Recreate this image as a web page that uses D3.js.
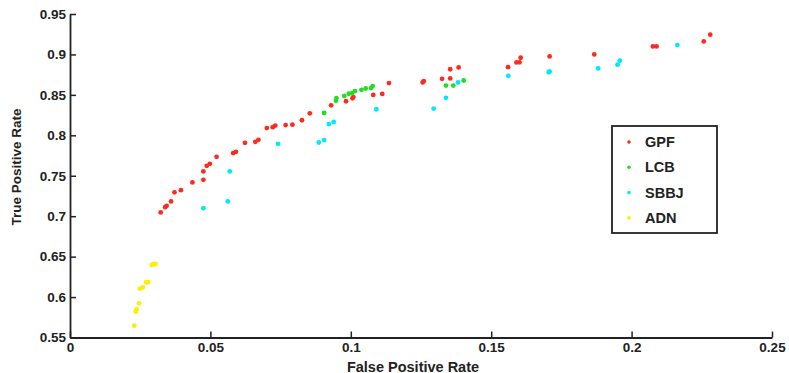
<!DOCTYPE html>
<html>
<head>
<meta charset="utf-8">
<script src="https://cdn.jsdelivr.net/npm/d3@7"></script>
<style>
  html, body { margin: 0; padding: 0; background: #fff; }
  svg { display: block; font-family: "Liberation Sans", Arial, sans-serif; font-weight: bold; }
</style>
</head>
<body>
<svg id="chart" width="789" height="373"></svg>
<script>
// series values: [false positive rate, true positive rate]
const gpf = [
  [0.0323, 0.7047], [0.0339, 0.7111], [0.0344, 0.7127], [0.0360, 0.7183], [0.0372, 0.7295],
  [0.0395, 0.7322], [0.0436, 0.7418], [0.0475, 0.7449], [0.0475, 0.7554], [0.0487, 0.7623],
  [0.0498, 0.7647], [0.0522, 0.7734], [0.0581, 0.7780], [0.0591, 0.7796], [0.0623, 0.7907],
  [0.0660, 0.7920], [0.0671, 0.7944], [0.0701, 0.8089], [0.0722, 0.8101], [0.0731, 0.8121],
  [0.0768, 0.8126], [0.0792, 0.8132], [0.0826, 0.8186], [0.0854, 0.8272], [0.0930, 0.8371],
  [0.0983, 0.8421], [0.1006, 0.8458], [0.1009, 0.8473], [0.1080, 0.8499], [0.1112, 0.8512],
  [0.1136, 0.8646], [0.1256, 0.8654], [0.1260, 0.8671], [0.1325, 0.8699], [0.1354, 0.8817],
  [0.1354, 0.8703], [0.1384, 0.8839], [0.1560, 0.8842], [0.1590, 0.8901], [0.1601, 0.8903],
  [0.1605, 0.8959], [0.1708, 0.8975], [0.1867, 0.9000], [0.2076, 0.9099], [0.2089, 0.9099],
  [0.2257, 0.9161], [0.2280, 0.9244]
];
const lcb = [
  [0.0905, 0.8276], [0.0947, 0.8427], [0.0949, 0.8460], [0.0977, 0.8486], [0.0993, 0.8514],
  [0.1005, 0.8522], [0.1015, 0.8547], [0.1038, 0.8563], [0.1053, 0.8579], [0.1072, 0.8584],
  [0.1078, 0.8609], [0.1339, 0.8615], [0.1365, 0.8615], [0.1402, 0.8678]
];
const sbbj = [
  [0.0475, 0.7099], [0.0562, 0.7183], [0.0569, 0.7554], [0.0741, 0.7895], [0.0886, 0.7911],
  [0.0905, 0.7941], [0.0922, 0.8139], [0.0939, 0.8165], [0.1091, 0.8322], [0.1295, 0.8330],
  [0.1339, 0.8464], [0.1382, 0.8653], [0.1561, 0.8736], [0.1705, 0.8780], [0.1708, 0.8790],
  [0.1881, 0.8827], [0.1950, 0.8873], [0.1958, 0.8922], [0.2163, 0.9116]
];
const adn = [
  [0.0229, 0.5646], [0.0234, 0.5819], [0.0237, 0.5849], [0.0246, 0.5923], [0.0249, 0.6104],
  [0.0259, 0.6121], [0.0271, 0.6183], [0.0278, 0.6183], [0.0291, 0.6397], [0.0299, 0.6406],
  [0.0305, 0.6410]
];

const seriesNames = ['GPF', 'LCB', 'SBBJ', 'ADN'];
const seriesColors = ['#ff2a1e', '#22dd22', '#00e8ff', '#ffee00'];
const xTicks = [0, 0.05, 0.1, 0.15, 0.2, 0.25];
const yTicks = [0.55, 0.6, 0.65, 0.7, 0.75, 0.8, 0.85, 0.9, 0.95];

const margin = {top: 14, right: 17, bottom: 35.5, left: 70};
const width = 789, height = 373;

const svg = d3.select('#chart');

const x = d3.scaleLinear()
  .domain([0, 0.25])
  .range([margin.left, width - margin.right]);

const y = d3.scaleLinear()
  .domain([0.55, 0.95])
  .range([height - margin.bottom, margin.top]);

// points
const allSeries = [gpf, lcb, sbbj, adn];
allSeries.forEach((data, i) => {
  svg.append('g')
    .attr('fill', seriesColors[i])
    .selectAll('circle')
    .data(data)
    .join('circle')
    .attr('cx', d => x(d[0]))
    .attr('cy', d => y(d[1]))
    .attr('r', 2.4);
});

// axes, ticks pointing inward like matlab
const xAxis = g => g
  .attr('transform', `translate(0,${y(0.55)})`)
  .call(d3.axisBottom(x).tickValues(xTicks).tickFormat(d3.format('')).tickSize(-6).tickSizeOuter(0).tickPadding(5));

const yAxis = g => g
  .attr('transform', `translate(${x(0)},0)`)
  .call(d3.axisLeft(y).tickValues(yTicks).tickFormat(d3.format('')).tickSize(-6).tickSizeOuter(0).tickPadding(4));

svg.append('g').attr('class', 'axis').call(xAxis);
svg.append('g').attr('class', 'axis').call(yAxis);

svg.selectAll('.axis path.domain').attr('stroke', '#222').attr('stroke-width', 1.8);
svg.selectAll('.axis .tick line').attr('stroke', '#222').attr('stroke-width', 1.5);
svg.selectAll('.axis .tick text')
  .style('font-size', '13.5px')
  .style('font-weight', 'bold')
  .style('font-family', '"Liberation Sans", Arial, sans-serif')
  .attr('fill', '#222');

// axis titles
svg.append('text')
  .attr('x', 413)
  .attr('y', 371.5)
  .attr('text-anchor', 'middle')
  .attr('fill', '#222')
  .style('font-size', '14.5px')
  .text('False Positive Rate');

svg.append('text')
  .attr('transform', 'translate(20.5,167) rotate(-90)')
  .attr('text-anchor', 'middle')
  .attr('fill', '#222')
  .style('font-size', '13.5px')
  .text('True Positive Rate');

// legend
const legend = svg.append('g').attr('transform', 'translate(612,126)');
legend.append('rect')
  .attr('width', 105)
  .attr('height', 107)
  .attr('fill', '#fff')
  .attr('stroke', '#222')
  .attr('stroke-width', 1.8);

const item = legend.selectAll('g.item')
  .data(seriesNames)
  .join('g')
  .attr('class', 'item')
  .attr('transform', (d, i) => `translate(0,${16 + i * 25.3})`);

item.append('circle')
  .attr('cx', 17)
  .attr('cy', 0)
  .attr('r', 1.8)
  .attr('fill', (d, i) => seriesColors[i]);

item.append('text')
  .attr('x', 33)
  .attr('y', 5)
  .attr('fill', '#222')
  .style('font-size', '14.5px')
  .text(d => d);
</script>
</body>
</html>
